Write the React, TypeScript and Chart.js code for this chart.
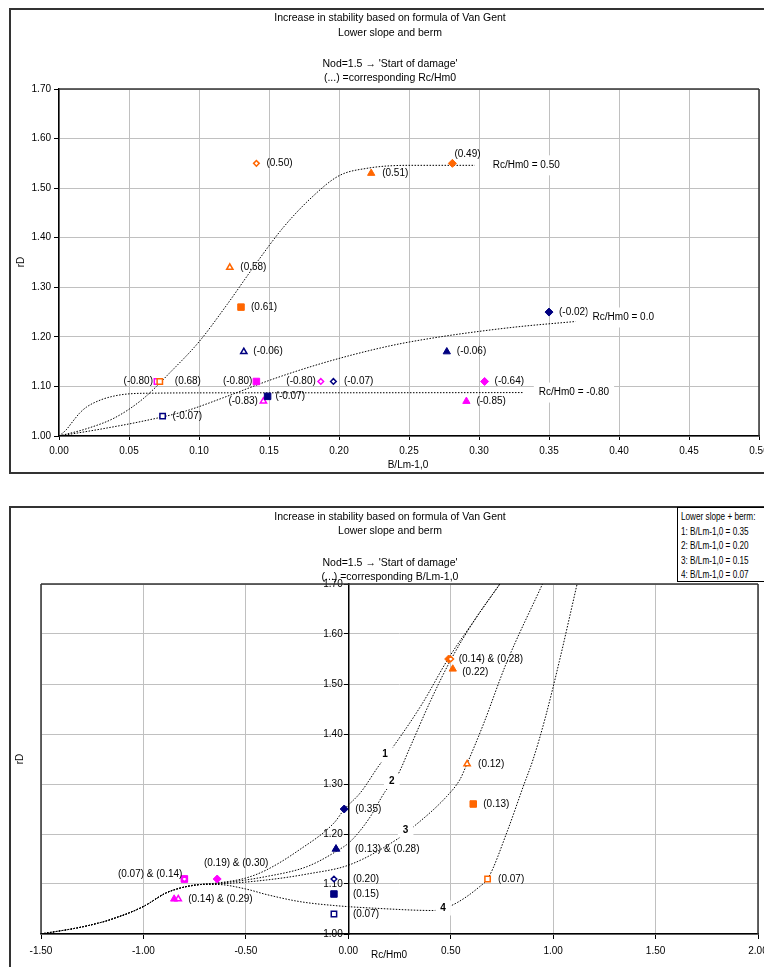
import React, { useEffect, useRef } from 'react';
import { Chart, registerables } from 'chart.js';

Chart.register(...registerables);

const FONT = "'Liberation Sans', Arial, Helvetica, sans-serif";
Chart.defaults.font.family = FONT;
Chart.defaults.font.size = 10;
Chart.defaults.color = '#000';

const ORANGE = '#FF6600';
const NAVY = '#000080';
const MAGENTA = '#FF00FF';

// ---------- measured tests (one entry per marker) ----------
// relative berm width B/Lm-1,0
const pointB = [0.141, 0.281, 0.223, 0.122, 0.130, 0.072, 0.350, 0.277, 0.132, 0.196, 0.149, 0.074, 0.304, 0.291, 0.187, 0.141, 0.146, 0.070];
// relative crest height Rc/Hm0
const pointRc = [0.50, 0.49, 0.51, 0.58, 0.61, 0.68, -0.02, -0.06, -0.06, -0.07, -0.07, -0.07, -0.64, -0.85, -0.80, -0.80, -0.83, -0.80];
// increase in stability rD
const pointRd = [1.55, 1.55, 1.53, 1.34, 1.26, 1.11, 1.25, 1.17, 1.17, 1.11, 1.08, 1.04, 1.11, 1.07, 1.11, 1.11, 1.07, 1.11];
// data labels of the lower chart (corresponding B/Lm-1,0)
const lowerLabels = ['(0.14) & (0.28)', '', '(0.22)', '(0.12)', '(0.13)', '(0.07)', '(0.35)', '(0.13) & (0.28)', '', '(0.20)', '(0.15)', '(0.07)', '(0.19) & (0.30)', '(0.14) & (0.29)', '', '(0.07) & (0.14)', '', ''];

// ---------- fitted curves, upper chart (x = B/Lm-1,0) ----------
const curveHighX = [0, 0.02, 0.04, 0.06, 0.08, 0.10, 0.12, 0.14, 0.16, 0.18, 0.20, 0.22, 0.25, 0.297];
const curveHighY = [1.00, 1.015, 1.037, 1.075, 1.13, 1.19, 1.265, 1.345, 1.42, 1.48, 1.525, 1.54, 1.546, 1.546];
const curveZeroX = [0, 0.03, 0.06, 0.09, 0.12, 0.15, 0.18, 0.21, 0.24, 0.27, 0.30, 0.33, 0.369];
const curveZeroY = [1.00, 1.014, 1.03, 1.05, 1.08, 1.112, 1.14, 1.164, 1.184, 1.199, 1.211, 1.221, 1.231];
const curveLowX = [0, 0.005, 0.01, 0.015, 0.02, 0.03, 0.04, 0.05, 0.07, 0.10, 0.20, 0.332];
const curveLowY = [1.00, 1.012, 1.03, 1.047, 1.059, 1.073, 1.081, 1.085, 1.0865, 1.087, 1.0872, 1.0876];
const upperCurveNames = ['Rc/Hm0 = 0.50', 'Rc/Hm0 = 0.0', 'Rc/Hm0 = -0.80'];

// ---------- fitted curves, lower chart (x = Rc/Hm0) ----------
const curve1X = [-1.5, -1.29, -1.16, -1.0, -0.89, -0.82, -0.72, -0.64, -0.5, -0.4, -0.24, -0.07, -0.02, 0.06, 0.15, 0.22, 0.36, 0.49, 0.62, 0.74];
const curve1Y = [1.00, 1.015, 1.029, 1.055, 1.082, 1.092, 1.099, 1.102, 1.112, 1.128, 1.168, 1.222, 1.249, 1.283, 1.337, 1.375, 1.46, 1.552, 1.63, 1.70];
const curve2X = [-1.5, -1.29, -1.16, -1.0, -0.89, -0.82, -0.72, -0.64, -0.4, -0.2, -0.06, 0.01, 0.10, 0.18, 0.24, 0.30, 0.40, 0.50, 0.62, 0.74];
const curve2Y = [1.00, 1.015, 1.029, 1.055, 1.082, 1.092, 1.099, 1.101, 1.115, 1.135, 1.165, 1.185, 1.23, 1.285, 1.317, 1.372, 1.465, 1.548, 1.63, 1.70];
const curve3X = [-1.5, -1.29, -1.16, -1.0, -0.89, -0.82, -0.72, -0.64, -0.4, -0.2, 0.01, 0.24, 0.32, 0.48, 0.545, 0.574, 0.66, 0.77, 0.948];
const curve3Y = [1.00, 1.015, 1.029, 1.055, 1.082, 1.092, 1.099, 1.100, 1.108, 1.12, 1.139, 1.19, 1.215, 1.275, 1.309, 1.335, 1.42, 1.54, 1.70];
const curve4X = [-1.5, -1.29, -1.16, -1.0, -0.89, -0.82, -0.72, -0.64, -0.5, -0.4, -0.24, -0.07, 0.155, 0.415, 0.504, 0.642, 0.683, 0.773, 0.854, 0.902, 0.96, 1.03, 1.117];
const curve4Y = [1.00, 1.015, 1.029, 1.055, 1.082, 1.092, 1.099, 1.099, 1.09, 1.079, 1.065, 1.057, 1.051, 1.047, 1.057, 1.095, 1.112, 1.202, 1.295, 1.349, 1.43, 1.545, 1.70];
const curveTags = ['1', '2', '3', '4'];
const curveTagX = [0.179, 0.212, 0.28, 0.463];
const curveTagY = [1.359, 1.305, 1.208, 1.052];
const legendLines = ['Lower slope + berm:', '1: B/Lm-1,0 = 0.35', '2: B/Lm-1,0 = 0.20', '3: B/Lm-1,0 = 0.15', '4: B/Lm-1,0 = 0.07'];

// ---------- marker styles ----------
const markerColour = [ORANGE, ORANGE, ORANGE, ORANGE, ORANGE, ORANGE, NAVY, NAVY, NAVY, NAVY, NAVY, NAVY, MAGENTA, MAGENTA, MAGENTA, MAGENTA, MAGENTA, MAGENTA];
const markerShape = ['rectRot', 'rectRot', 'triangle', 'triangle', 'rect', 'rect', 'rectRot', 'triangle', 'triangle', 'rectRot', 'rect', 'rect', 'rectRot', 'triangle', 'rectRot', 'rect', 'triangle', 'rect'];
const markerFilled = [false, true, true, false, true, false, true, true, false, false, true, false, true, true, false, true, false, false];

// label placement (pixels relative to marker)
const upperDx = [10, 2, 11, 10.5, 10, 15, 10, 10, 9.5, 10.5, 8, 10, 10, 10, -5, -4, -5.5, -4];
const upperDy = [0, -9.5, 0, 0, 0, 0, 0, 0, 0, 0, 0, 0, 0, 0, 0, 0, 0, 0];
const upperAlign = ['left', 'left', 'left', 'left', 'left', 'left', 'left', 'left', 'left', 'left', 'left', 'left', 'left', 'left', 'right', 'right', 'right', 'right'];
const lowerDx = [8, 0, 9.5, 11, 10, 10.5, 11, 19, 0, 19, 19, 19, 19, 14, 0, -2, 0, 0];
const lowerDy = [0, 0, 3.5, 0, 0, 0, 0, 0, 0, 0, 0, 0, -16, 0, 0, -5, 0, 0];
const lowerAlign = ['left', 'left', 'left', 'left', 'left', 'left', 'left', 'left', 'left', 'left', 'left', 'left', 'center', 'left', 'left', 'right', 'left', 'left'];

type LabelItem = { x: number; y: number; text: string; dx: number; dy: number; align: CanvasTextAlign; bold?: boolean; box?: [number, number] };

function labelPlugin(items: LabelItem[]) {
  return {
    id: 'customLabels',
    afterDatasetsDraw(chart: any) {
      const { ctx, scales } = chart;
      ctx.save();
      ctx.textBaseline = 'middle';
      for (const it of items) {
        const px = scales.x.getPixelForValue(it.x) + it.dx;
        const py = scales.y.getPixelForValue(it.y) + it.dy;
        ctx.font = `${it.bold ? 'bold ' : ''}10px ${FONT}`;
        ctx.textAlign = it.align;
        if (it.box) {
          const w = ctx.measureText(it.text).width;
          const left = it.align === 'left' ? px : it.align === 'right' ? px - w : px - w / 2;
          ctx.fillStyle = '#fff';
          ctx.fillRect(left - it.box[0], py - it.box[1] / 2, w + 2 * it.box[0], it.box[1]);
        }
        ctx.fillStyle = '#000';
        ctx.fillText(it.text, px, py);
      }
      ctx.restore();
    },
  };
}

function framePlugin(sides: string[]) {
  return {
    id: 'plotFrame',
    beforeDatasetsDraw(chart: any) {
      const { ctx, chartArea: a } = chart;
      ctx.save();
      ctx.lineWidth = 1.5;
      ctx.strokeStyle = '#333';
      ctx.beginPath();
      if (sides.includes('top')) { ctx.moveTo(a.left, a.top); ctx.lineTo(a.right, a.top); }
      if (sides.includes('right')) { ctx.moveTo(a.right, a.top); ctx.lineTo(a.right, a.bottom); }
      if (sides.includes('left')) { ctx.moveTo(a.left, a.top); ctx.lineTo(a.left, a.bottom); }
      ctx.stroke();
      ctx.restore();
    },
  };
}

function markerDatasets(xs: number[]) {
  return xs.map((x, i) => ({
    data: [{ x, y: pointRd[i] }],
    pointStyle: markerShape[i],
    pointRadius: markerShape[i] === 'rectRot' ? (markerFilled[i] ? 4 : 2.8) : markerShape[i] === 'rect' ? (markerFilled[i] ? 4.6 : 3.8) : (markerFilled[i] ? 4.2 : 3.6),
    pointBackgroundColor: markerFilled[i] ? markerColour[i] : '#fff',
    pointBorderColor: markerColour[i],
    pointBorderWidth: markerFilled[i] ? 1 : 1.5,
    showLine: false,
  }));
}

function curveDataset(xs: number[], ys: number[]) {
  return {
    data: xs.map((x, i) => ({ x, y: ys[i] })),
    showLine: true,
    borderColor: '#000',
    borderWidth: 1,
    borderDash: [1.5, 1.5],
    pointRadius: 0,
    cubicInterpolationMode: 'monotone',
    fill: false,
  };
}

const fmt2 = (v: any) => Number(v).toFixed(2);

function upperConfig(): any {
  const labels: LabelItem[] = pointB.map((b, i) => ({
    x: b, y: pointRd[i], text: `(${pointRc[i].toFixed(2)})`, dx: upperDx[i], dy: upperDy[i], align: upperAlign[i] as CanvasTextAlign,
  }));
  const ends = [[curveHighX, curveHighY], [curveZeroX, curveZeroY], [curveLowX, curveLowY]];
  const endDx = [18, 17, 15];
  const endDy = [0, -4, 0];
  ends.forEach(([xs, ys], k) => {
    labels.push({ x: xs[xs.length - 1], y: ys[ys.length - 1], text: upperCurveNames[k], dx: endDx[k], dy: endDy[k], align: 'left', box: [5, 20] });
  });
  return {
    type: 'scatter',
    data: {
      datasets: [
        ...markerDatasets(pointB),
        curveDataset(curveHighX, curveHighY),
        curveDataset(curveZeroX, curveZeroY),
        curveDataset(curveLowX, curveLowY),
      ],
    },
    options: {
      animation: false,
      responsive: false,
      events: [],
      layout: { padding: { left: 11, right: 19, top: 81, bottom: 7 } },
      plugins: { legend: { display: false }, tooltip: { enabled: false }, title: { display: false } },
      scales: {
        x: {
          type: 'linear', min: 0, max: 0.5,
          ticks: { stepSize: 0.05, callback: fmt2, padding: 5, maxRotation: 0, autoSkip: false, font: { size: 10 }, color: '#000' },
          grid: { color: '#c0c0c0', lineWidth: 1, tickColor: '#000', tickLength: 4 },
          border: { color: '#000', width: 1.5 },
          afterFit: (s: any) => { s.height = 30; },
        },
        y: {
          type: 'linear', min: 1, max: 1.7,
          ticks: { stepSize: 0.1, callback: fmt2, padding: 3, font: { size: 10 }, color: '#000' },
          grid: { color: '#c0c0c0', lineWidth: 1, tickColor: '#000', tickLength: 5 },
          border: { color: '#000', width: 1.5 },
          afterFit: (s: any) => { s.width = 40; },
        },
      },
    },
    plugins: [framePlugin(['top', 'right']), labelPlugin(labels)],
  };
}

function lowerConfig(): any {
  const labels: LabelItem[] = [];
  pointRc.forEach((rc, i) => {
    if (lowerLabels[i]) labels.push({ x: rc, y: pointRd[i], text: lowerLabels[i], dx: lowerDx[i], dy: lowerDy[i], align: lowerAlign[i] as CanvasTextAlign });
  });
  curveTags.forEach((t, k) => labels.push({ x: curveTagX[k], y: curveTagY[k], text: t, dx: 0, dy: 0, align: 'center', bold: true, box: [5, 15] }));
  return {
    type: 'scatter',
    data: {
      datasets: [
        ...markerDatasets(pointRc),
        curveDataset(curve1X, curve1Y),
        curveDataset(curve2X, curve2Y),
        curveDataset(curve3X, curve3Y),
        curveDataset(curve4X, curve4Y),
      ],
    },
    options: {
      animation: false,
      responsive: false,
      events: [],
      layout: { padding: { left: 33, right: 20, top: 78, bottom: 17 } },
      plugins: { legend: { display: false }, tooltip: { enabled: false }, title: { display: false } },
      scales: {
        x: {
          type: 'linear', min: -1.5, max: 2.0, position: 'bottom',
          ticks: { stepSize: 0.5, callback: fmt2, padding: 6, maxRotation: 0, autoSkip: false, font: { size: 10 }, color: '#000' },
          grid: { color: '#c0c0c0', lineWidth: 1, tickColor: '#000', tickLength: 5 },
          border: { color: '#000', width: 1.5 },
          afterFit: (s: any) => { s.height = 25; },
        },
        y: {
          type: 'linear', min: 1, max: 1.7, position: { x: 0 },
          ticks: { stepSize: 0.1, callback: (v: any) => fmt2(v) + '  ', padding: 3, font: { size: 10 }, color: '#000' },
          grid: { color: '#c0c0c0', lineWidth: 1, tickColor: '#000', tickLength: 4 },
          border: { color: '#000', width: 1.5 },
        },
      },
    },
    plugins: [framePlugin(['top', 'right', 'left']), labelPlugin(labels)],
  };
}

function ChartCanvas({ left, top, width, height, build }: { left: number; top: number; width: number; height: number; build: () => any }) {
  const ref = useRef<HTMLCanvasElement>(null);
  useEffect(() => {
    const chart = new Chart(ref.current as HTMLCanvasElement, build());
    return () => chart.destroy();
  }, []);
  return <canvas ref={ref} width={width} height={height} style={{ position: 'absolute', left, top, width, height }} />;
}

const textBase: React.CSSProperties = { position: 'absolute', fontFamily: FONT, fontSize: 10.5, lineHeight: '12px', color: '#000', whiteSpace: 'nowrap' };

function Line({ text, cy }: { text: string; cy: number }) {
  return <div style={{ ...textBase, left: 8, width: 764, top: cy - 6, textAlign: 'center' }}>{text}</div>;
}

function At({ text, cx, cy, rotate }: { text: string; cx: number; cy: number; rotate?: boolean }) {
  return (
    <div style={{ ...textBase, fontSize: 10, left: cx - 50, width: 100, top: cy - 6, textAlign: 'center', transform: rotate ? 'rotate(-90deg)' : undefined }}>{text}</div>
  );
}

export default function App() {
  return (
    <div style={{ position: 'fixed', left: 0, top: 0, width: 764, height: 967, overflow: 'hidden', background: '#fff' }}>
      {/* upper chart */}
      <div style={{ position: 'absolute', left: 9, top: 8, width: 800, height: 462, border: '2px solid #333' }} />
      <ChartCanvas left={8} top={8} width={770} height={465} build={upperConfig} />
      <Line text="Increase in  stability based on formula of Van Gent" cy={17} />
      <Line text="Lower slope and berm" cy={31.5} />
      <Line text="Nod=1.5 → 'Start of damage'" cy={63} />
      <Line text="(...) =corresponding Rc/Hm0" cy={77} />
      <At text="B/Lm-1,0" cx={408} cy={465} />
      <At text="rD" cx={21} cy={262} rotate />

      {/* lower chart */}
      <div style={{ position: 'absolute', left: 9, top: 506, width: 800, height: 500, border: '2px solid #333' }} />
      <ChartCanvas left={8} top={506} width={770} height={470} build={lowerConfig} />
      <Line text="Increase in  stability based on formula of Van Gent" cy={515.5} />
      <Line text="Lower slope and berm" cy={530} />
      <Line text="Nod=1.5 → 'Start of damage'" cy={562} />
      <Line text="(...) =corresponding B/Lm-1,0" cy={576} />
      <At text="Rc/Hm0" cx={389} cy={955} />
      <At text="rD" cx={20} cy={759} rotate />
      <div style={{ position: 'absolute', left: 677, top: 507, width: 100, height: 73, border: '1px solid #000', background: '#fff' }}>
        {legendLines.map((t, i) => (
          <div key={i} style={{ ...textBase, fontSize: 10.5, left: 3, top: 2 + i * 14.5, transform: 'scaleX(0.78)', transformOrigin: 'left center' }}>{t}</div>
        ))}
      </div>
    </div>
  );
}
